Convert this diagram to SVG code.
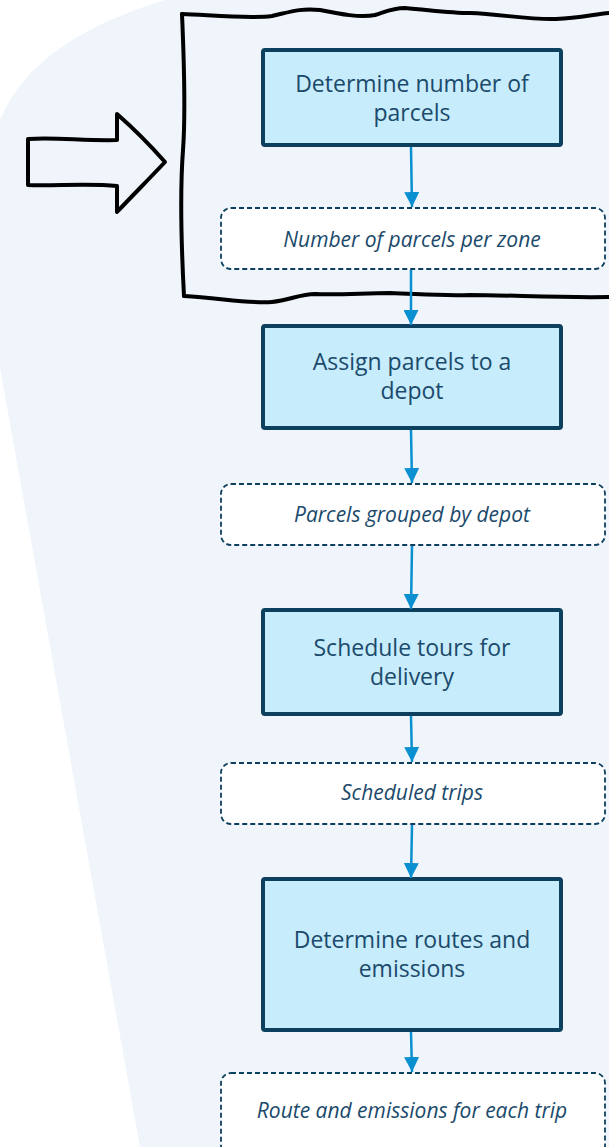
<svg xmlns="http://www.w3.org/2000/svg" width="609" height="1147" viewBox="0 0 609 1147">
<defs>
<style>
.proc rect{fill:#c7ecfc;stroke:#0d3f5e;stroke-width:4}
.data rect{fill:#ffffff;stroke:#0d3f5e;stroke-width:1.8;stroke-dasharray:5 3}
.pt{font-family:"Open Sans",sans-serif;font-size:23px;fill:#1b4a6b;text-anchor:middle}
.dt{font-family:"Open Sans",sans-serif;font-size:21px;font-style:italic;fill:#1b4a6b;text-anchor:middle}
.conn line{stroke:#0a8fd0;stroke-width:2.5}
.sketch{fill:none;stroke:#000;stroke-width:4;stroke-linejoin:round;stroke-linecap:round}
</style>
<marker id="ah" viewBox="0 0 15 15" refX="15" refY="7.5" markerWidth="15" markerHeight="15" markerUnits="userSpaceOnUse" orient="auto">
<path d="M0 0 L15 7.5 L0 15 Z" fill="#0a8fd0"/>
</marker>
</defs>
<rect x="0" y="0" width="609" height="1147" fill="#ffffff"/>
<path d="M165 0 C85 25 25 60 0 120 L0 368 L140 1147 L609 1147 L609 0 Z" fill="#eff5fa"/>
<path class="sketch" d="M182 14 C210 15 250 19 272 16 C290 12 300 8 320 10 C340 14 360 18 375 15 C385 12 392 8 405 8 C430 10 450 13 470 13 C500 14 530 20 556 19 C580 18 595 14 609 13"/>
<path class="sketch" d="M182 14 C184 60 186 110 183 150 C180 190 181 240 184 296"/>
<path class="sketch" d="M184 296 C220 298 250 304 272 302 C290 300 300 294 315 294 C340 295 365 293 390 293 C420 294 440 296 470 295 C510 295 560 298 609 297"/>
<path class="sketch" d="M28 139 C55 137 85 141 117 140 L117 114 C133 128 150 145 165 162 C150 178 133 195 117 212 L117 186 C90 183 55 186 28 185 Z" stroke-width="3.5"/>
<g id="n1" class="proc"><rect x="263" y="50" width="298" height="95" rx="2"/><text class="pt" x="412" y="92">Determine number of</text><text class="pt" x="412" y="121">parcels</text></g>
<g id="d1" class="data"><rect x="221" y="208" width="384" height="61" rx="10"/><text class="dt" x="412" y="247">Number of parcels per zone</text></g>
<g id="n2" class="proc"><rect x="263" y="326" width="298" height="102" rx="2"/><text class="pt" x="412" y="370">Assign parcels to a</text><text class="pt" x="412" y="399">depot</text></g>
<g id="d2" class="data"><rect x="221" y="484" width="384" height="61" rx="10"/><text class="dt" x="412" y="522">Parcels grouped by depot</text></g>
<g id="n3" class="proc"><rect x="263" y="610" width="298" height="104" rx="2"/><text class="pt" x="412" y="656">Schedule tours for</text><text class="pt" x="412" y="685">delivery</text></g>
<g id="d3" class="data"><rect x="221" y="763" width="384" height="61" rx="10"/><text class="dt" x="412" y="800">Scheduled trips</text></g>
<g id="n4" class="proc"><rect x="263" y="879" width="298" height="151" rx="2"/><text class="pt" x="412" y="948">Determine routes and</text><text class="pt" x="412" y="977">emissions</text></g>
<g id="d4" class="data"><rect x="221" y="1073" width="384" height="90" rx="10"/><text class="dt" x="412" y="1118">Route and emissions for each trip</text></g>
<g id="connectors" class="conn">
<line x1="411" y1="147" x2="412" y2="207" marker-end="url(#ah)"/>
<line x1="411" y1="270" x2="411" y2="325" marker-end="url(#ah)"/>
<line x1="411" y1="430" x2="412" y2="483" marker-end="url(#ah)"/>
<line x1="412" y1="546" x2="411" y2="609" marker-end="url(#ah)"/>
<line x1="411" y1="716" x2="412" y2="762" marker-end="url(#ah)"/>
<line x1="412" y1="825" x2="411" y2="878" marker-end="url(#ah)"/>
<line x1="411" y1="1032" x2="412" y2="1072" marker-end="url(#ah)"/>
</g>
</svg>
